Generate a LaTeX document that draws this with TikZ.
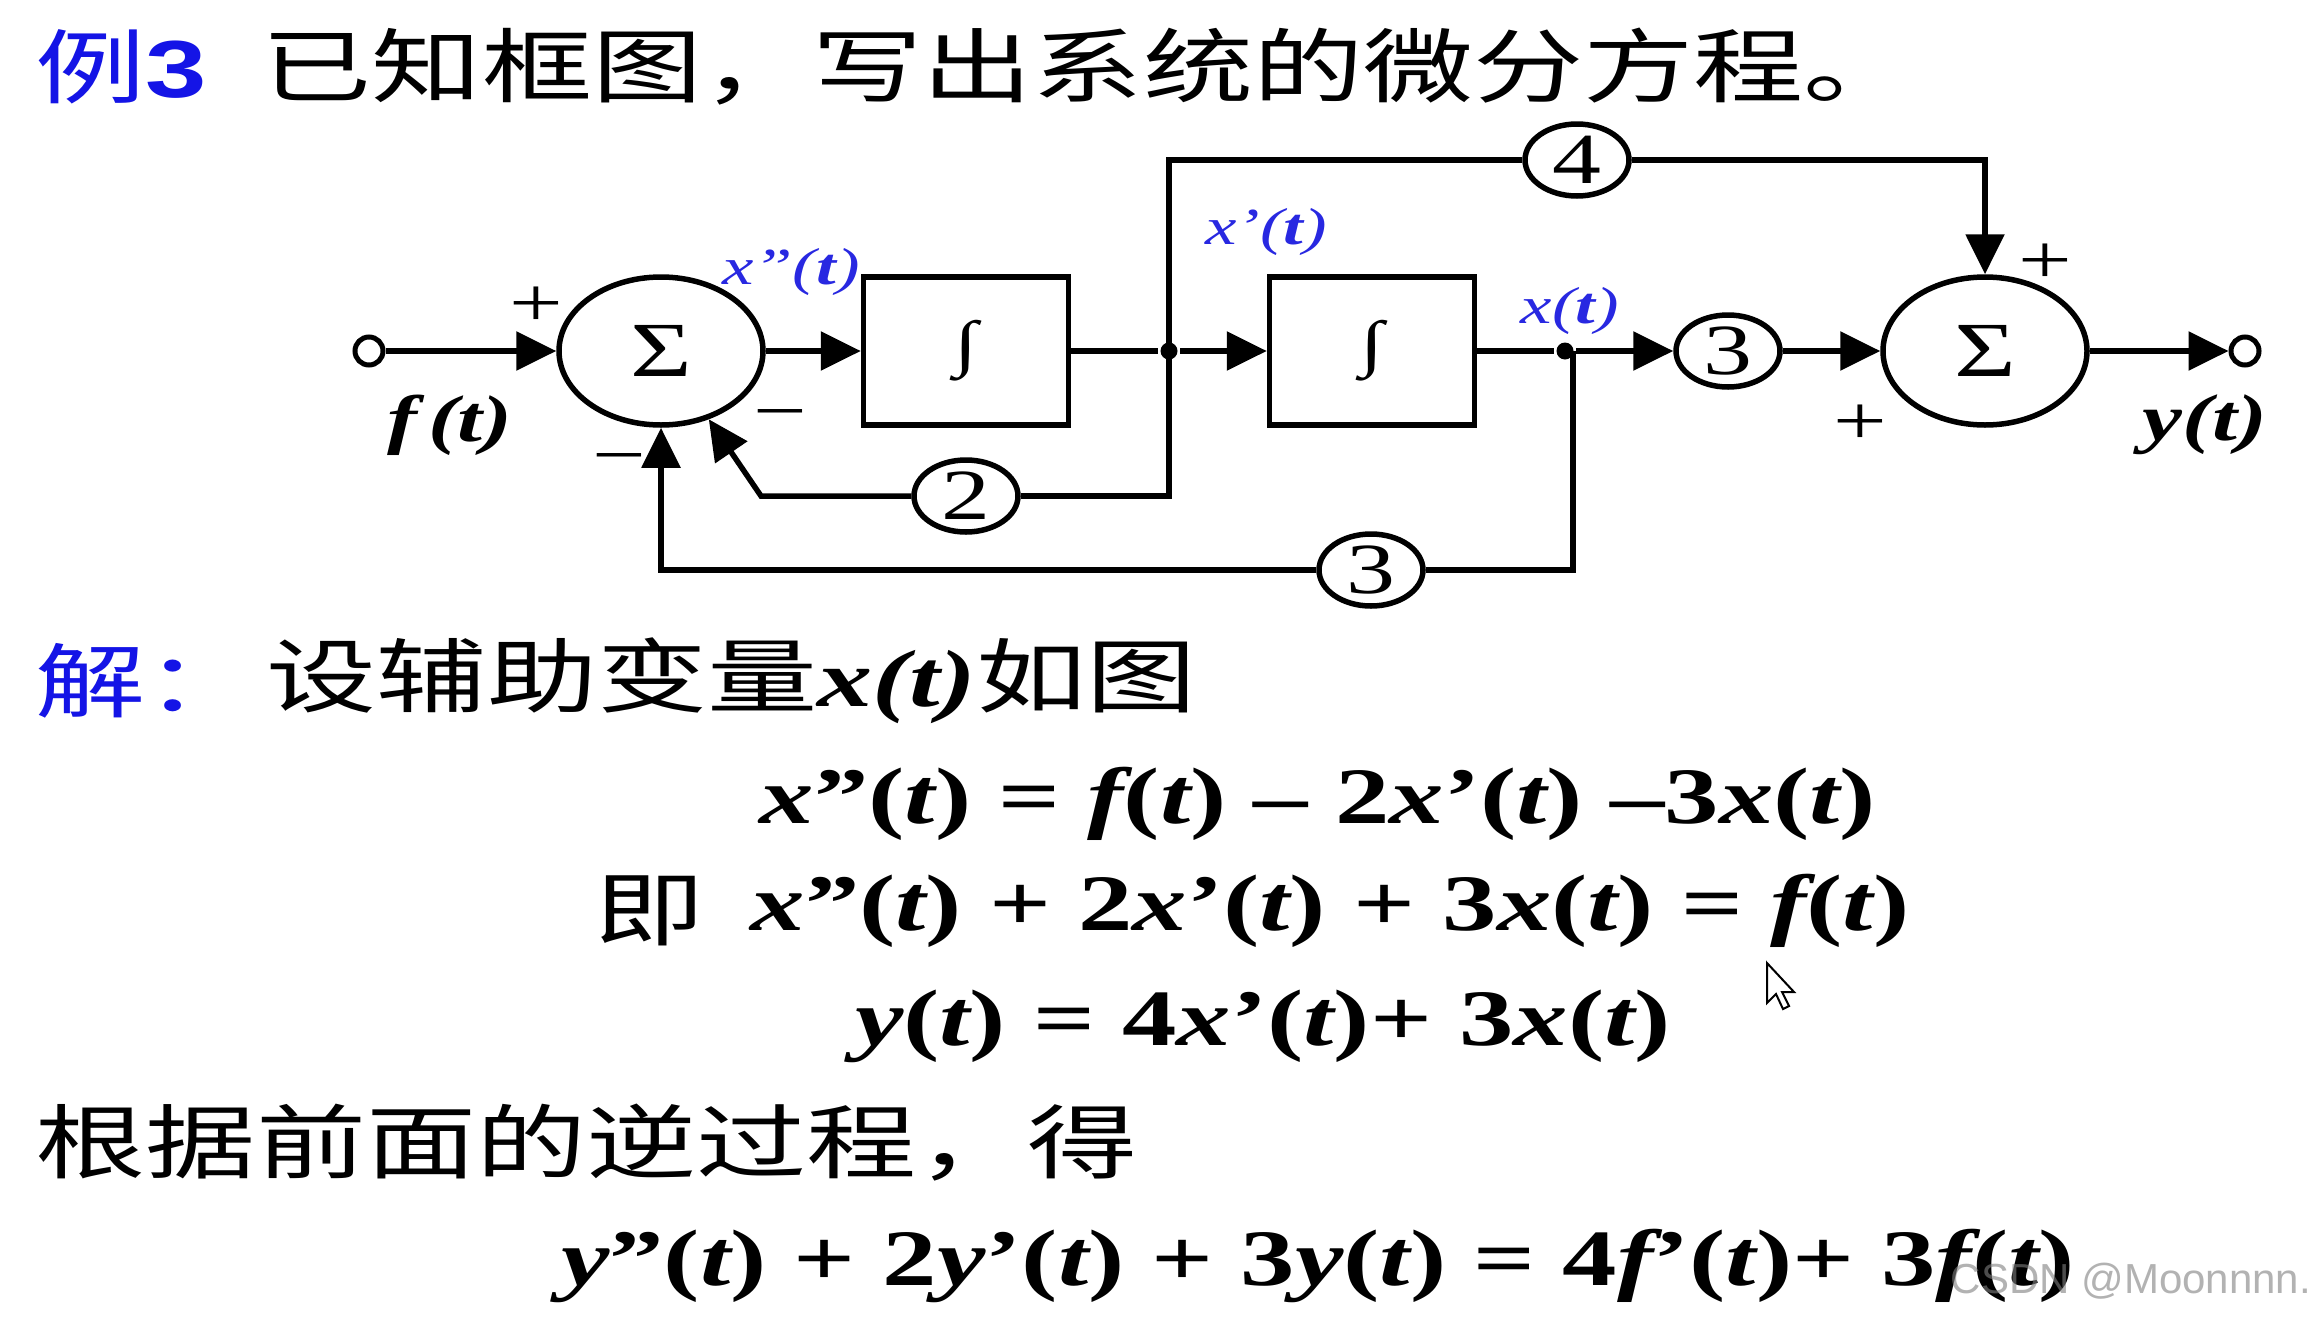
\documentclass[tikz,border=0pt]{standalone}
\usepackage{fontspec}
\setmainfont[FakeStretch=1.36]{Liberation Serif}
\newfontfamily\cjk[FakeStretch=1.36]{Noto Sans CJK SC}
\newfontfamily\sansbold[FakeStretch=1.36]{Liberation Sans}
\newfontfamily\wmfont{Liberation Sans}
\usetikzlibrary{arrows.meta,shapes.geometric}
\definecolor{labelblue}{RGB}{40,40,225}
\definecolor{headblue}{RGB}{20,20,230}
\newcommand\fs[1]{\fontsize{#1pt}{#1pt}\selectfont}
\newcommand\bi[1]{{\itshape #1}}
\begin{document}
\begin{tikzpicture}[x=1pt,y=-1pt, line width=5.5pt,
  every node/.style={inner sep=0pt},
  sumnode/.style={draw, ellipse, minimum width=204pt, minimum height=148pt, font=\fs{78}},
  intbox/.style={draw, rectangle, minimum width=205pt, minimum height=148pt, font=\fs{62}},
  gain/.style={draw, ellipse, minimum width=104pt, minimum height=72pt, font=\fs{72}},
  port/.style={draw, circle, minimum size=28pt, line width=5pt},
  jdot/.style={fill, circle, minimum size=17pt},
  arr/.style={-{Triangle[length=40pt,width=38pt]}},
  sig/.style={font=\fs{52}\itshape, text=labelblue},
  sgn/.style={font=\fs{70}},
  io/.style={font=\fs{66}\bfseries\itshape},
  cjkline/.style={anchor=west, font=\cjk\fs{81}},
  eqn/.style={font=\fs{80}\bfseries}]
\useasboundingbox[fill=white] (0,0) rectangle (2322,1323);
% title
\node[cjkline, text=headblue] (ex) at (33,67) {例{\sansbold\bfseries 3}};
\node[cjkline] (title) at (259,67) {已知框图，写出系统的微分方程。};
% diagram nodes
\node[port] (in) at (369,351) {};
\node[sumnode] (s1) at (661,351) {Σ};
\node[intbox] (b1) at (966,351) {∫};
\node[jdot] (j1) at (1169,351) {};
\node[intbox] (b2) at (1372,351) {∫};
\node[jdot] (j2) at (1565,351) {};
\node[gain] (g3a) at (1728,351) {3};
\node[sumnode] (s2) at (1985,351) {Σ};
\node[port] (out) at (2245,351) {};
\node[gain] (g4) at (1577,160) {4};
\node[gain] (g2) at (966,496) {2};
\node[gain] (g3b) at (1371,570) {3};
\coordinate (t1) at (1169,160);
\coordinate (t2) at (1985,160);
\coordinate (c2a) at (1169,496);
\coordinate (c2b) at (761,496);
\coordinate (c3a) at (1573,570);
\coordinate (c3t) at (1573,351);
\coordinate (c3b) at (661,570);
% connectors
\draw[arr] (in) -- (s1);
\draw[arr] (s1) -- (b1);
\draw (b1) -- (j1);
\draw[arr] (j1) -- (b2);
\draw (b2) -- (j2);
\draw[arr] (j2) -- (g3a);
\draw[arr] (g3a) -- (s2);
\draw[arr] (s2) -- (out);
\draw (j1.center) -- (t1) -- (g4);
\draw[arr] (g4) -- (t2) -- (s2);
\draw (j1.center) -- (c2a) -- (g2);
\draw[arr] (g2) -- (c2b) -- (s1.-55);
\draw (c3t) -- (c3a) -- (g3b);
\draw[arr] (g3b) -- (c3b) -- (s1);
% labels
\node[io] (lf) at (450,425) {f\,(t)};
\node[io] (ly) at (2205,425) {y(t)};
\node[sig] (lx2) at (791,272) {x”(\textbf{t})};
\node[sig] (lx1) at (1266,232) {x’(\textbf{t})};
\node[sig] (lx0) at (1570,311) {x(\textbf{t})};
\node[sgn] (p1) at (536,307) {+};
\node[sgn] (m1) at (780,422) {−};
\node[sgn] (m2) at (619,466) {−};
\node[sgn] (p2) at (2045,264) {+};
\node[sgn] (p3) at (1860,425) {+};
% solution
\node[cjkline, text=headblue] (sol) at (33,681) {解：};
\node[cjkline] (aux) at (264,681) {设辅助变量{\rmfamily\bfseries\itshape x(t)}如图};
\node[eqn] (e1) at (1318,804) {\bi{x}”(\bi{t}) = \bi{f}(\bi{t}) – 2\bi{x}’(\bi{t}) –3\bi{x}(\bi{t})};
\node[cjkline, anchor=center] (ji) at (650,911) {即};
\node[eqn] (e2) at (1330,911) {\bi{x}”(\bi{t}) + 2\bi{x}’(\bi{t}) + 3\bi{x}(\bi{t}) = \bi{f}(\bi{t})};
\node[eqn] (e3) at (1263,1026) {\bi{y}(\bi{t}) = 4\bi{x}’(\bi{t})+ 3\bi{x}(\bi{t})};
\node[cjkline] (rev) at (33,1143) {根据前面的逆过程，得};
\node[eqn] (e4) at (1318,1266) {\bi{y}”(\bi{t}) + 2\bi{y}’(\bi{t}) + 3\bi{y}(\bi{t}) = 4\bi{f}’(\bi{t})+ 3\bi{f}(\bi{t})};
% watermark and cursor
\node[font=\wmfont\fs{42}, text=gray, opacity=0.6] (wm) at (2131,1281) {CSDN @Moonnnn.};
\draw[line width=2pt, fill=white] (1767,963) -- ++(0,40) -- ++(9,-9) -- ++(7,15) -- ++(6,-3) -- ++(-7,-14) -- ++(12,0) -- cycle;
\end{tikzpicture}
\end{document}
